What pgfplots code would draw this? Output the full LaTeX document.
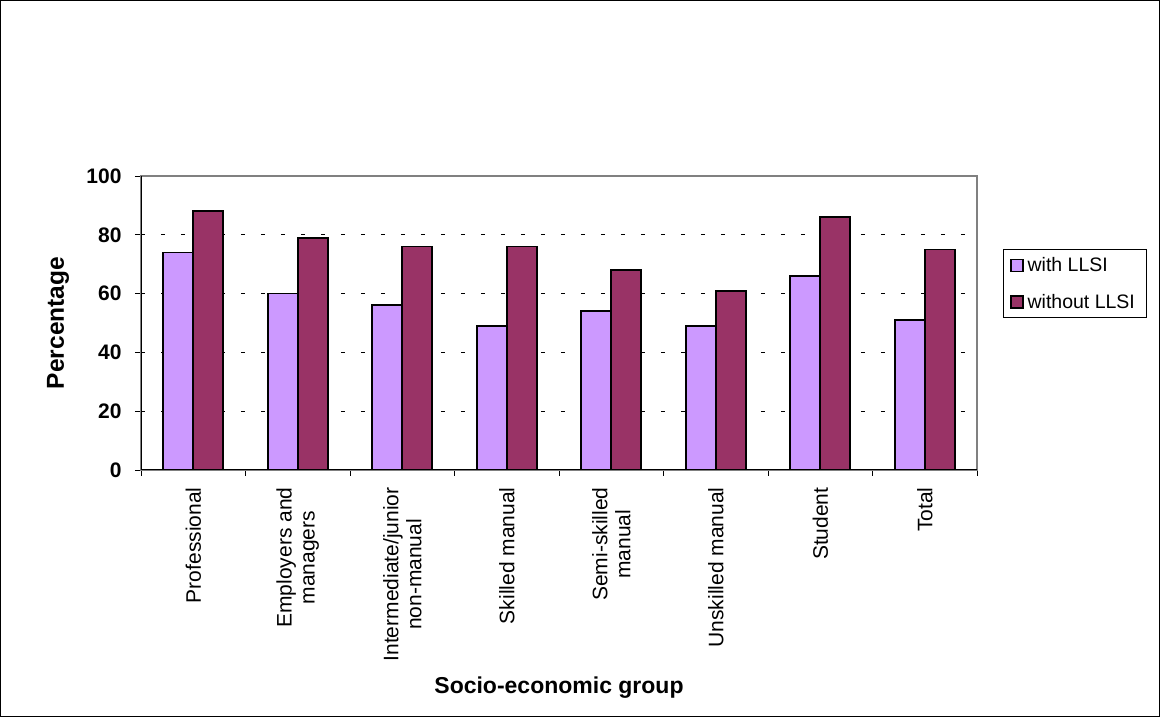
\documentclass[border=0pt]{standalone}
\usepackage{pgfplots}
\pgfplotsset{compat=1.18}
\usepackage{fontspec}
\setmainfont{Liberation Sans}
\definecolor{withc}{HTML}{CC99FF}
\definecolor{withoutc}{HTML}{993366}
\pgfplotsset{sqlegend/.style={legend image code/.code={\draw[##1,draw=black,line width=1.2pt] (0pt,-6pt) rectangle (12pt,6pt);}}}
\begin{document}
\begin{tikzpicture}
\useasboundingbox (0pt,0pt) rectangle (1160pt,717pt);
\draw[line width=1pt] (0.5pt,0.5pt) rectangle (1159.5pt,716.5pt);
\begin{axis}[
  at={(141pt,247pt)}, anchor=south west, scale only axis,
  width=836pt, height=294pt,
  ybar=0pt, bar width=30pt,
  xmin=-0.5, xmax=7.5, ymin=0, ymax=100, enlargelimits=false,
  xtick={-0.5,0.5,...,7.5}, xticklabels={},
  extra x ticks={0,1,...,7},
  extra x tick labels={Professional, {Employers and\\managers}, {Intermediate/junior\\non-manual}, Skilled manual, {Semi-skilled\\manual}, Unskilled manual, Student, Total},
  extra x tick style={major tick length=0pt},
  xticklabel style={rotate=90, anchor=east, align=center, font=\fontsize{21}{23}\selectfont},
  xticklabel shift=14pt,
  ytick={0,20,...,100},
  extra y ticks={20,40,60,80}, extra y tick labels={},
  extra y tick style={grid=major, major tick length=0pt},
  major grid style={black, dash pattern=on 4pt off 16pt, line width=0.8pt},
  /pgf/number format/assume math mode=true,
  yticklabel style={font=\bfseries\fontsize{21}{24}\selectfont},
  yticklabel shift=10pt,
  tick align=outside, major tick length=6pt, tick pos=left,
  tick style={black, line width=0.8pt},
  axis line style={draw=gray, line width=1.2pt},
  after end axis/.code={\draw[black,line width=1pt] (rel axis cs:0,1) -- (rel axis cs:0,0) -- (rel axis cs:1,0);},
  ylabel={Percentage},
  every axis y label/.style={at={(axis description cs:-0.0993,0.5)}, rotate=90, anchor=center, font=\bfseries\fontsize{24.5}{28}\selectfont},
  xlabel={Socio-economic group},
  every axis x label/.style={at={(axis description cs:0.5,-0.7415)}, anchor=center, font=\bfseries\fontsize{23}{27}\selectfont},
  legend style={at={(1.0311,0.634)}, anchor=west, draw=black, line width=0.8pt,
    font=\fontsize{19.5}{22}\selectfont, inner xsep=7pt, inner ysep=7pt, row sep=19pt,
    nodes={inner xsep=4pt, inner ysep=1pt}},
  legend cell align=left,
]
\addplot[fill=withc, draw=black, line width=1.8pt, sqlegend] coordinates {(0,74) (1,60) (2,56) (3,49) (4,54) (5,49) (6,66) (7,51)};
\addplot[fill=withoutc, draw=black, line width=1.8pt, sqlegend] coordinates {(0,88) (1,79) (2,76) (3,76) (4,68) (5,61) (6,86) (7,75)};
\legend{with LLSI, without LLSI}
\end{axis}
\end{tikzpicture}
\end{document}
